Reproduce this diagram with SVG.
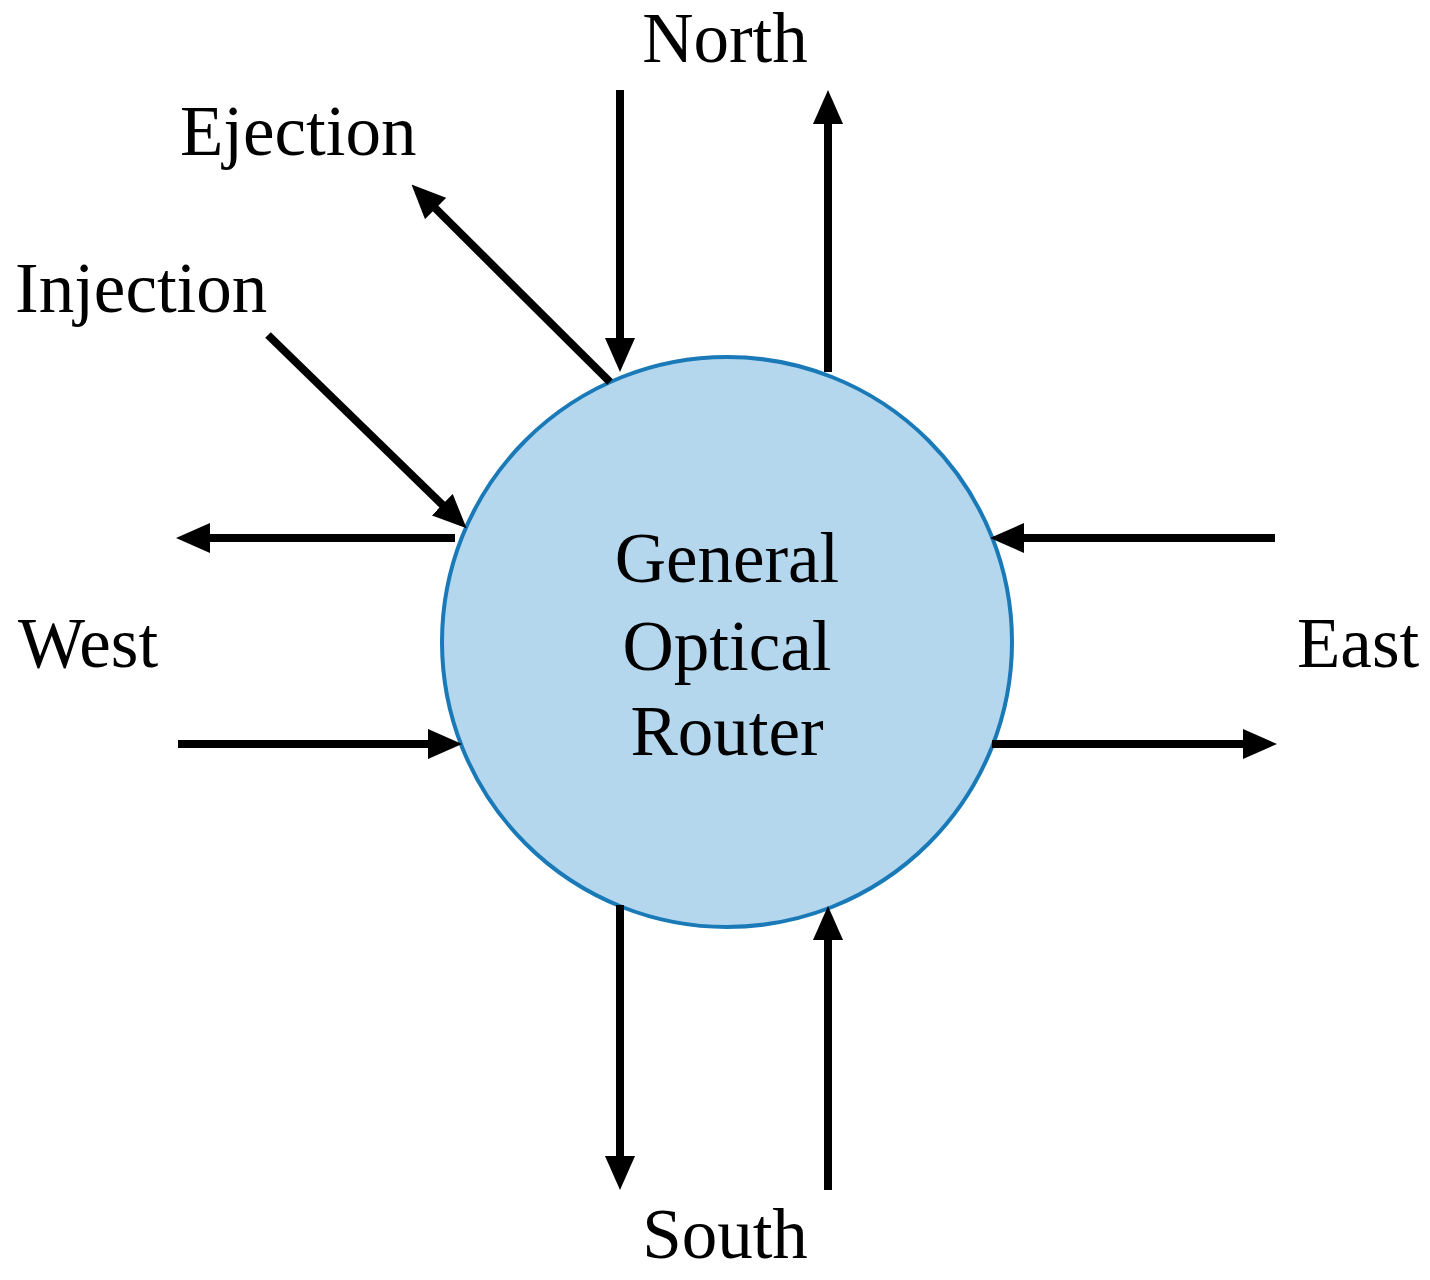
<svg xmlns="http://www.w3.org/2000/svg" width="1430" height="1280" viewBox="0 0 1430 1280">
<style>
text{font-family:"Liberation Serif","Times New Roman",serif;font-size:71px;fill:#000}
.a{stroke:#000;stroke-width:8;fill:none;marker-end:url(#h)}
</style>
<defs><marker id="h" markerUnits="userSpaceOnUse" markerWidth="34" markerHeight="30" refX="22" refY="15" orient="auto"><path d="M0,0 L34,15 L0,30 Z" fill="#000"/></marker></defs>
<rect width="1430" height="1280" fill="#fff"/>
<g id="router">
<circle cx="727" cy="642" r="285" fill="#b4d7ee" stroke="#1a7ab8" stroke-width="4"/>
<text x="727" y="582" text-anchor="middle">General</text>
<text x="727" y="670" text-anchor="middle">Optical</text>
<text x="727" y="755" text-anchor="middle">Router</text>
</g>
<g id="connectors">
<line class="a" x1="620" y1="90" x2="620" y2="360"/>
<line class="a" x1="828" y1="372" x2="828" y2="102"/>
<line class="a" x1="610" y1="382" x2="420" y2="193"/>
<line class="a" x1="268" y1="335" x2="458" y2="520"/>
<line class="a" x1="455" y1="538" x2="188" y2="538"/>
<line class="a" x1="178" y1="744" x2="450" y2="744"/>
<line class="a" x1="1275" y1="538" x2="1002" y2="538"/>
<line class="a" x1="992" y1="744" x2="1265" y2="744"/>
<line class="a" x1="620" y1="905" x2="620" y2="1178"/>
<line class="a" x1="828" y1="1190" x2="828" y2="918"/>
</g>
<g id="labels">
<text x="725" y="62" text-anchor="middle">North</text>
<text x="180" y="155">Ejection</text>
<text x="15" y="312">Injection</text>
<text x="18" y="667">West</text>
<text x="1297" y="667">East</text>
<text x="725" y="1258" text-anchor="middle">South</text>
</g>
</svg>
